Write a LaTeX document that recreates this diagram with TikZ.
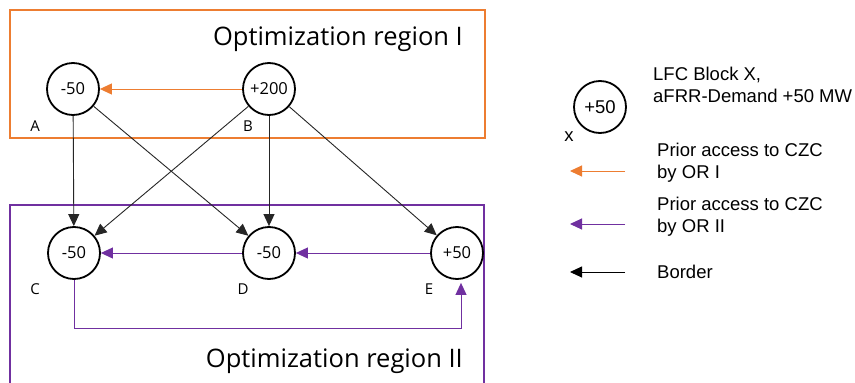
\documentclass[tikz,border=0pt]{standalone}
\usepackage{fontspec}
\setmainfont{Open Sans}
\newfontfamily\arialf{Liberation Sans}
\usetikzlibrary{arrows.meta}
\definecolor{orI}{HTML}{ED7D31}
\definecolor{orII}{HTML}{7030A0}
\begin{document}
\begin{tikzpicture}[x=1pt,y=-1pt,
  blk/.style={circle,draw=black,line width=1.8pt,minimum size=52pt,inner sep=0pt,font=\fontsize{16.5}{18}\selectfont},
  lgblk/.style={blk,font=\arialf\fontsize{18.5}{20}\selectfont},
  lbl/.style={font=\fontsize{15}{17}\selectfont,anchor=base},
  title/.style={font=\fontsize{25.5}{28}\selectfont,anchor=base east,inner sep=0pt},
  lgtext/.style={font=\arialf\fontsize{18.5}{22}\selectfont,align=left,anchor=base west,inner sep=0pt},
  borderarr/.style={draw=black!85,line width=0.9pt,-{Triangle[length=12pt,width=11pt]}},
  orIarr/.style={draw=orI,line width=1pt,-{Triangle[length=12pt,width=11pt]}},
  orIIarr/.style={draw=orII,line width=1pt,-{Triangle[length=12pt,width=11pt]}},
  regI/.style={draw=orI,line width=1.8pt},
  regII/.style={draw=orII,line width=1.8pt}
]
\useasboundingbox[fill=white] (0,0) rectangle (855,383);
\clip (0,0) rectangle (855,383);

% regions
\draw[regI] (10,10) rectangle (485,138);
\draw[regII] (10,205) rectangle (484,400);
\node[title] (tI) at (463,45) {Optimization region I};
\node[title] (tII) at (463,367) {Optimization region II};

% blocks
\node[blk] (A) at (73,89) {-50};
\node[blk] (B) at (269,89) {+200};
\node[blk] (C) at (74,253) {-50};
\node[blk] (D) at (269,253) {-50};
\node[blk] (E) at (457,253) {+50};

\node[lbl] (lA) at (35,131) {A};
\node[lbl] (lB) at (248,131) {B};
\node[lbl] (lC) at (35,294) {C};
\node[lbl] (lD) at (243,294) {D};
\node[lbl] (lE) at (429,294) {E};

% borders
\draw[borderarr] (A) -- (C);
\draw[borderarr] (A) -- (D);
\draw[borderarr] (B) -- (C);
\draw[borderarr] (B) -- (D);
\draw[borderarr] (B) -- (E);

% prior access
\draw[orIarr] (B) -- (A);
\draw[orIIarr] (E) -- (D);
\draw[orIIarr] (D) -- (C);
\coordinate (loopR) at (461,328);
\draw[orIIarr,shorten >=3pt] (C.south) |- (loopR) -- (E.south -| loopR);

% legend
\node[lgblk] (X) at (600,107) {+50};
\node[font=\arialf\fontsize{18.5}{20}\selectfont,anchor=base] (lX) at (569,141) {x};
\node[lgtext] (tX) at (653,102) {LFC Block X,\\aFRR-Demand +50 MW};

\coordinate (o1) at (625,171);
\coordinate (o2) at (570,171);
\draw[orIarr] (o1) -- (o2);
\node[lgtext] (tO) at (657,178) {Prior access to CZC\\by OR I};

\coordinate (p1) at (625,224);
\coordinate (p2) at (570,224);
\draw[orIIarr] (p1) -- (p2);
\node[lgtext] (tP) at (657,232) {Prior access to CZC\\by OR II};

\coordinate (b1) at (625,272);
\coordinate (b2) at (570,272);
\draw[borderarr,draw=black] (b1) -- (b2);
\node[lgtext] (tB) at (657,278) {Border};
\end{tikzpicture}
\end{document}
